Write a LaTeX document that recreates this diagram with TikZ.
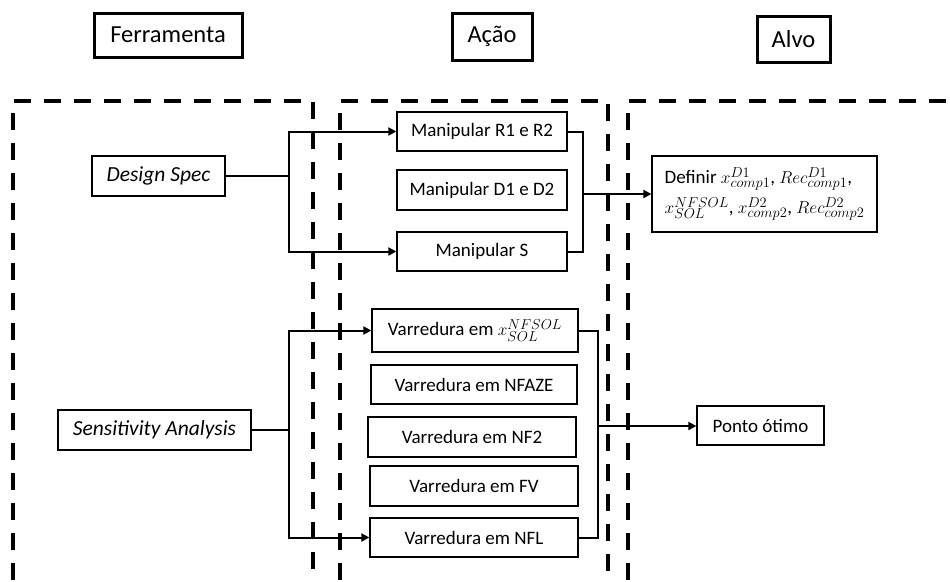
\documentclass[tikz,border=0pt]{standalone}
\usepackage{fontspec}
\setmainfont{Carlito}
\usetikzlibrary{arrows.meta}
\begin{document}
\begin{tikzpicture}[x=1pt,y=-1pt,
  box/.style={draw, line width=1.3pt, inner sep=0pt, font=\fontsize{19}{22}\selectfont},
  itbox/.style={box, font=\fontsize{21.5}{24}\selectfont\itshape},
  hdr/.style={draw, line width=3pt, inner sep=0pt, font=\fontsize{24.5}{28}\selectfont},
  region/.style={draw, line width=4pt, dash pattern=on 17pt off 13pt},
  conn/.style={line width=2pt},
  arr/.style={conn, -{Triangle[length=8pt,width=8pt]}}]
\useasboundingbox (0,0) rectangle (950,581);
\begin{scope}
\clip (0,0) rectangle (950,581);
\draw[region] (13,640) -- (13,101) -- (313,101) -- (313,640);
\draw[region] (340,640) -- (340,101) -- (608,101) -- (608,640);
\draw[region] (628,640) -- (628,101) -- (980,101);
\end{scope}
% headers
\node[hdr, minimum width=148pt, minimum height=44pt] (fer) at (168,35) {Ferramenta};
\node[hdr, minimum width=80pt, minimum height=47pt] (acao) at (492,36.5) {Ação};
\node[hdr, minimum width=73pt, minimum height=46pt] (alvo) at (793.5,39) {Alvo};
% tools
\node[itbox, minimum width=133pt, minimum height=40pt] (ds) at (158.5,176) {Design Spec};
\node[itbox, minimum width=193pt, minimum height=40pt] (sa) at (154.5,430) {Sensitivity Analysis};
% actions
\node[box, minimum width=170pt, minimum height=39pt] (m1) at (482,131.5) {Manipular R1 e R2};
\node[box, minimum width=170pt, minimum height=40pt] (m2) at (482,190) {Manipular D1 e D2};
\node[box, minimum width=170pt, minimum height=39pt] (m3) at (482,251.5) {Manipular S};
\node[box, minimum width=206pt, minimum height=43pt] (v1) at (475,330.5) {Varredura em $x^{NFSOL}_{SOL}$};
\node[box, minimum width=206pt, minimum height=39pt] (v2) at (474,384.5) {Varredura em NFAZE};
\node[box, minimum width=208pt, minimum height=40pt] (v3) at (472,437) {Varredura em NF2};
\node[box, minimum width=208pt, minimum height=40pt] (v4) at (474,486) {Varredura em FV};
\node[box, minimum width=208pt, minimum height=39pt] (v5) at (474,537.5) {Varredura em NFL};
% targets
\node[box, minimum width=225pt, minimum height=76pt, align=left, font=\fontsize{19}{30}\selectfont] (def) at (764.5,194)
  {Definir $x^{D1}_{comp1}$, $Rec^{D1}_{comp1}$,\\$x^{NFSOL}_{SOL}$, $x^{D2}_{comp2}$, $Rec^{D2}_{comp2}$};
\node[box, minimum width=127pt, minimum height=39pt] (po) at (760.5,425.5) {Ponto ótimo};
% branch points
\coordinate (b1) at (289,176);
\coordinate (b2) at (289,430);
\coordinate (c1) at (583,194);
\coordinate (c2) at (598,426);
% connectors
\draw[conn] (ds.east) -- (b1);
\draw[arr] (b1) |- (m1.west);
\draw[arr] (b1) |- (m3.west);
\draw[conn] (m1.east) -| (c1) |- (m3.east);
\draw[arr] (c1) -- (def.west);
\draw[conn] (sa.east) -- (b2);
\draw[arr] (b2) |- (v1.west);
\draw[arr] (b2) |- (v5.west);
\draw[conn] (v1.east) -| (c2) |- (v5.east);
\draw[arr] (c2) -- (po.west |- c2);
\end{tikzpicture}
\end{document}
